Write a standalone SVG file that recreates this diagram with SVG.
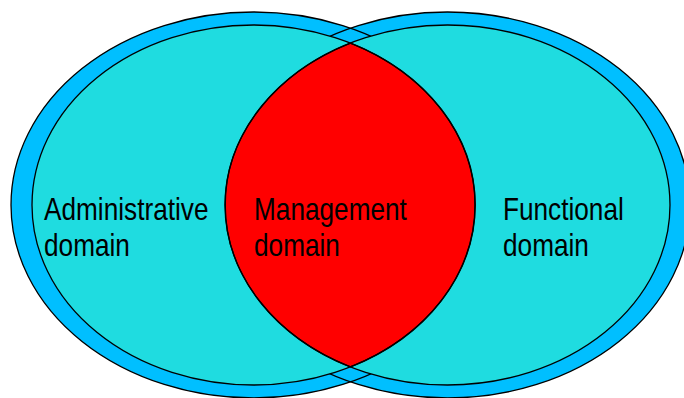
<svg xmlns="http://www.w3.org/2000/svg" width="684" height="398" viewBox="0 0 684 398">
  <style>
    .outer { fill: #00BFFF; stroke: none; }
    .inner { fill: #1FDCE0; stroke: none; }
    .line { fill: none; stroke: #000; stroke-width: 1.3; }
    .lens { fill: #FF0000; stroke: #000; stroke-width: 1.3; }
    .lbl { font-family: "Liberation Sans", Arial, sans-serif; font-size: 26.2px; fill: #000; }
  </style>
  <rect width="684" height="398" fill="#fff"/>
  <g id="rings">
    <ellipse class="outer" cx="253.5" cy="205" rx="242.5" ry="193"/>
    <ellipse class="outer" cx="447.5" cy="205" rx="242.5" ry="193"/>
    <ellipse class="line" cx="253.5" cy="205" rx="242.5" ry="193"/>
    <ellipse class="line" cx="447.5" cy="205" rx="242.5" ry="193"/>
  </g>
  <g id="cores">
    <ellipse class="inner" cx="253.5" cy="205" rx="221.5" ry="180"/>
    <ellipse class="inner" cx="447.5" cy="205" rx="222.5" ry="180"/>
  </g>
  <g id="management-lens">
    <path class="lens" d="M350.5,43.1 A221.5,180 0 0 1 350.5,366.9 A222.5,180 0 0 1 350.5,43.1 Z"/>
  </g>
  <g id="outlines">
    <ellipse class="line" cx="253.5" cy="205" rx="221.5" ry="180"/>
    <ellipse class="line" cx="447.5" cy="205" rx="222.5" ry="180"/>
  </g>
  <g id="administrative-domain">
    <text class="lbl" transform="translate(44,220) scale(1,1.18)">Administrative</text>
    <text class="lbl" transform="translate(44,256) scale(1,1.18)">domain</text>
  </g>
  <g id="functional-domain">
    <text class="lbl" transform="translate(503,220) scale(1,1.18)">Functional</text>
    <text class="lbl" transform="translate(503,256) scale(1,1.18)">domain</text>
  </g>
  <g id="management-domain">
    <text class="lbl" transform="translate(254,220) scale(1,1.18)">Management</text>
    <text class="lbl" transform="translate(254,256) scale(1,1.18)">domain</text>
  </g>
  <g id="connectors"></g>
</svg>
